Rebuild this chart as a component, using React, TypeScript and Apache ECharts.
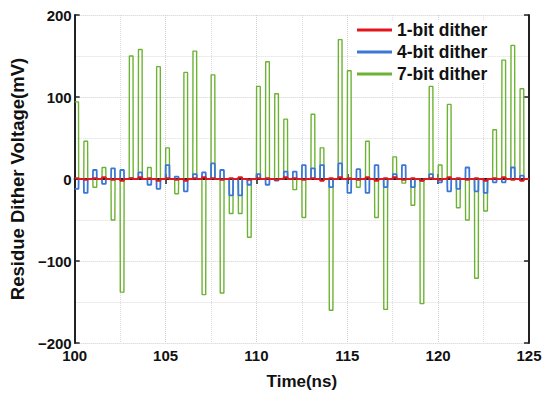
import React, { useEffect, useRef } from "react";
import * as echarts from "echarts";

// Pulse sample grid (ns)
const tStart = 100;
const tEnd = 125;
const samplePeriod = 0.5;
const pulseWidth = 0.21;

const seriesNames = ["1-bit dither", "4-bit dither", "7-bit dither"];

// pulse amplitudes (mV) per sample
const oneBit = [1, -1, 1, 2, -1, -2, 1, 2, 1, -2, 1, -1, -2, 1, 2, 1, -1, 1, 2, -1, 1, 1, -1, 2, 1, -1, 1, -2, 1, 2, 1, -1, 2, -2, 1, 2, -1, 1, -2, 1, -1, 2, 1, -1, 1, -2, 1, 2, -1, -2];
const fourBit = [-12, -17, 11, -6, 13, 11, 1, 8, -7, -12, 17, 3, -15, 6, 8, 19, 11, -20, -20, -7, 6, -7, -2, 9, 9, 17, 13, 17, -10, 19, -17, 12, -17, 17, -10, 6, 17, -10, -2, 6, -4, -15, -12, 14, -15, -17, -4, -4, 14, 4];
const sevenBit = [94, 46, -10, 14, -50, -138, 150, 158, 14, 137, 38, -18, 130, 156, -141, 127, -139, -42, -42, -71, 113, 143, 104, 73, -13, -47, 79, 38, -160, 170, 132, -10, 46, -47, -159, 27, -5, -32, -152, 113, 17, 91, -35, -50, -121, -39, 60, 145, 163, 110];

const xTicks = [100, 105, 110, 115, 120, 125];
const yTicks = [-200, -100, 0, 100, 200];

const colors = ["#e3161b", "#3b78d6", "#6cb333"];

function pulses(vals: number[]): number[][] {
  const pts: number[][] = [];
  vals.forEach((v, i) => {
    const t0 = tStart + i * samplePeriod;
    if (i === 0) pts.push([t0, v]);
    else {
      pts.push([t0, 0]);
      pts.push([t0 + 0.01, v]);
    }
    pts.push([t0 + pulseWidth, v]);
    pts.push([t0 + pulseWidth + 0.01, 0]);
  });
  pts.push([tEnd, 0]);
  return pts;
}

export default function App() {
  const ref = useRef<HTMLDivElement>(null);
  useEffect(() => {
    if (!ref.current) return;
    const chart = echarts.init(ref.current, null, { renderer: "svg" });
    const font = "'Liberation Sans', Arial, sans-serif";
    const axisLine = { show: true, lineStyle: { color: "#222", width: 2 } };
    const split = { show: true, lineStyle: { type: "dotted" as const, color: "#cfcfcf", width: 1 } };
    const minorSplit = { show: true, lineStyle: { type: "dotted" as const, color: "#dcdcdc", width: 1 } };
    const fmt = (v: number) => (v < 0 ? "\u2212" + Math.abs(v) : String(v));
    chart.setOption({
      animation: false,
      backgroundColor: "#fff",
      textStyle: { fontFamily: font },
      grid: { left: 63, right: 21, top: 15, bottom: 54, containLabel: false },
      legend: {
        data: seriesNames,
        orient: "vertical",
        left: 357,
        top: 21,
        padding: 0,
        itemGap: 4,
        itemWidth: 35,
        itemHeight: 3,
        itemTextGap: 5,
        icon: "rect",
        backgroundColor: "#fff",
        textStyle: { fontSize: 17.5, fontWeight: "bold", color: "#111", fontFamily: font },
      },
      xAxis: [
        {
          type: "value",
          min: xTicks[0],
          max: xTicks[xTicks.length - 1],
          interval: 5,
          name: "Time(ns)",
          nameLocation: "middle",
          nameGap: 30,
          nameTextStyle: { fontSize: 17, fontWeight: "bold", color: "#111", fontFamily: font },
          axisLine,
          axisTick: { show: true, inside: true, length: 5, lineStyle: { color: "#222", width: 1.5 } },
          axisLabel: { fontSize: 15, fontWeight: "bold", color: "#111", margin: 5, fontFamily: font },
          splitLine: split,
          minorTick: { show: false, splitNumber: 2 },
          minorSplitLine: minorSplit,
        },
        {
          type: "value",
          position: "top",
          min: xTicks[0],
          max: xTicks[xTicks.length - 1],
          interval: 5,
          axisLine,
          axisTick: { show: true, inside: true, length: 5, lineStyle: { color: "#222", width: 1.5 } },
          axisLabel: { show: false },
          splitLine: { show: false },
        },
      ],
      yAxis: [
        {
          type: "value",
          min: yTicks[0],
          max: yTicks[yTicks.length - 1],
          interval: 100,
          name: "Residue Dither Voltage(mV)",
          nameLocation: "middle",
          nameGap: 36,
          nameTextStyle: { fontSize: 18.5, fontWeight: "bold", color: "#111", fontFamily: font },
          axisLine,
          axisTick: { show: true, inside: true, length: 5, lineStyle: { color: "#222", width: 1.5 } },
          axisLabel: { fontSize: 15, fontWeight: "bold", color: "#111", margin: 3, formatter: fmt, fontFamily: font },
          splitLine: split,
          minorTick: { show: false, splitNumber: 2 },
          minorSplitLine: minorSplit,
        },
        {
          type: "value",
          position: "right",
          min: yTicks[0],
          max: yTicks[yTicks.length - 1],
          interval: 100,
          axisLine,
          axisTick: { show: true, inside: true, length: 5, lineStyle: { color: "#222", width: 1.5 } },
          axisLabel: { show: false },
          splitLine: { show: false },
        },
      ],
      series: [
        {
          name: seriesNames[2],
          type: "line",
          data: pulses(sevenBit),
          showSymbol: false,
          symbol: "none",
          color: colors[2],
          lineStyle: { width: 1.4, color: colors[2] },
          z: 2,
        },
        {
          name: seriesNames[1],
          type: "line",
          data: pulses(fourBit),
          showSymbol: false,
          symbol: "none",
          color: colors[1],
          lineStyle: { width: 1.8, color: colors[1] },
          z: 3,
        },
        {
          name: seriesNames[0],
          type: "line",
          data: pulses(oneBit),
          showSymbol: false,
          symbol: "none",
          color: colors[0],
          lineStyle: { width: 2, color: colors[0] },
          z: 4,
        },
      ],
    });
    return () => chart.dispose();
  }, []);
  return <div ref={ref} style={{ width: 550, height: 397, position: "absolute", left: 0, top: 0 }} />;
}
